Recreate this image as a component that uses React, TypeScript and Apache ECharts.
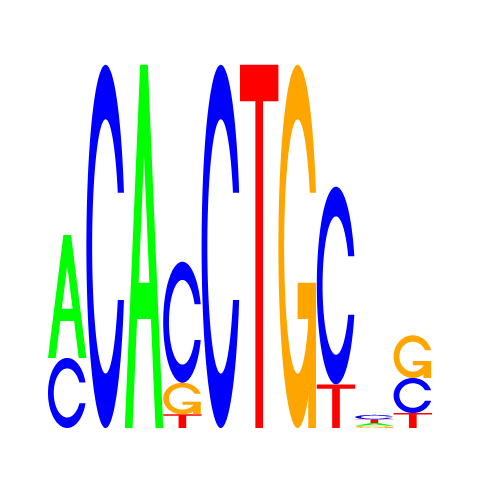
import { useEffect, useRef } from "react";
import * as echarts from "echarts";

// Sequence logo: letter heights (bits) per position
const positions = [1, 2, 3, 4, 5, 6, 7, 8, 9, 10];
const letters = ["A", "C", "G", "T"];
const heightA = [0.674, 0, 1.99, 0, 0, 0, 0, 0, 0.015, 0];
const heightC = [0.384, 1.99, 0, 0.663, 1.99, 0, 0, 1.083, 0.025, 0.192];
const heightG = [0, 0, 0, 0.173, 0, 0, 1.99, 0, 0.012, 0.234];
const heightT = [0, 0, 0, 0.075, 0, 1.99, 0, 0.239, 0.02, 0.082];
const letterColors = ["#00FF00", "#0000FF", "#FFA500", "#FF0000"];

type Pt = [number, number];
type Poly = { points: Pt[]; fill: string };

function seq(a: number, b: number, n: number) {
  const out: number[] = [];
  for (let i = 0; i < n; i++) out.push(a + ((b - a) * i) / (n - 1));
  return out;
}

// glyph outlines in a unit box, y pointing up
function cOutline(): Pt[] {
  const angle1 = seq(0.3 + Math.PI / 2, Math.PI, 100);
  const angle2 = seq(Math.PI, 1.5 * Math.PI, 100);
  const xl = [...angle1, ...angle2].map((a) => 0.5 + 0.5 * Math.sin(a));
  const yl = [...angle1, ...angle2].map((a) => 0.5 + 0.5 * Math.cos(a));
  const maxY1 = 0.5 + 0.5 * Math.cos(angle1[0]);
  const x = [...xl, ...[...xl].reverse()];
  const y = [...yl, ...[...yl].reverse().map((v) => 1 - v)];

  let xi1 = angle1.map((a) => 0.5 + 0.35 * Math.sin(a));
  let yi1 = angle1.map((a) => 0.5 + 0.35 * Math.cos(a));
  const keep = yi1.map((v) => v <= maxY1);
  xi1 = xi1.filter((_, i) => keep[i]);
  yi1 = yi1.filter((_, i) => keep[i]);
  yi1[0] = maxY1;
  const xi = [...xi1, ...angle2.map((a) => 0.5 + 0.35 * Math.sin(a))];
  const yi = [...yi1, ...angle2.map((a) => 0.5 + 0.35 * Math.cos(a))];
  const x1 = [...xi, ...[...xi].reverse()];
  const y1 = [...yi, ...[...yi].reverse().map((v) => 1 - v)];

  const xs = [...x, ...[...x1].reverse()];
  const ys = [...y, ...[...y1].reverse()];
  return xs.map((v, i) => [v, ys[i]] as Pt);
}

function glyph(letter: number): Poly[] {
  const col = letterColors[letter];
  if (letter === 0) {
    const outer: Pt[] = [[0, 0], [0.4, 1], [0.6, 1], [1, 0], [0.8, 0], [0.68, 0.3], [0.32, 0.3], [0.2, 0]];
    const hole: Pt[] = [[0.36, 0.4], [0.5, 0.75], [0.64, 0.4]];
    return [{ points: outer, fill: col }, { points: hole, fill: "#FFFFFF" }];
  }
  if (letter === 1) return [{ points: cOutline(), fill: col }];
  if (letter === 2) {
    const r1 = 0.5 + 0.5 * Math.sin(0.3 + Math.PI / 2);
    const bar: Pt[] = [[r1, 0.4], [0.5, 0.4], [0.5, 0.3], [r1 - 0.2, 0.3], [r1 - 0.2, 0], [r1, 0]];
    return [{ points: cOutline(), fill: col }, { points: bar, fill: col }];
  }
  const t: Pt[] = [[0, 1], [1, 1], [1, 0.9], [0.6, 0.9], [0.6, 0], [0.4, 0], [0.4, 0.9], [0, 0.9]];
  return [{ points: t, fill: col }];
}

// stack letters per position, smallest at the bottom
const heights = [heightA, heightC, heightG, heightT];
const stacked: number[][] = [];
positions.forEach((pos, i) => {
  const order = [0, 1, 2, 3]
    .filter((l) => heights[l][i] > 0)
    .sort((a, b) => heights[a][i] - heights[b][i]);
  let base = 0;
  order.forEach((l) => {
    stacked.push([pos, base, base + heights[l][i], l]);
    base += heights[l][i];
  });
});

export default function App() {
  const chartRef = useRef<HTMLDivElement>(null);

  useEffect(() => {
    if (!chartRef.current) return;
    const chart = echarts.init(chartRef.current, null, { renderer: "svg" });

    chart.setOption({
      animation: false,
      backgroundColor: "#FFFFFF",
      grid: { left: 48, top: 63, width: 384, height: 365 },
      xAxis: { type: "value", min: 0, max: 10, show: false },
      yAxis: { type: "value", min: 0, max: 2, show: false },
      series: [
        {
          type: "custom",
          name: letters.join(""),
          data: stacked,
          encode: { x: [0], y: [1, 2] },
          renderItem: (_params: any, api: any) => {
            const pos = api.value(0);
            const lo = api.coord([pos - 1, api.value(1)]);
            const hi = api.coord([pos, api.value(2)]);
            const left = lo[0];
            const bottom = lo[1];
            const w = hi[0] - lo[0];
            const h = lo[1] - hi[1];
            return {
              type: "group",
              children: glyph(api.value(3)).map((p) => ({
                type: "polygon",
                shape: { points: p.points.map(([ux, uy]) => [left + w * ux, bottom - h * uy]) },
                style: { fill: p.fill, stroke: null },
              })),
            };
          },
        },
      ],
    });

    return () => chart.dispose();
  }, []);

  return (
    <div
      ref={chartRef}
      style={{ position: "fixed", left: 0, top: 0, width: 480, height: 480 }}
    />
  );
}
